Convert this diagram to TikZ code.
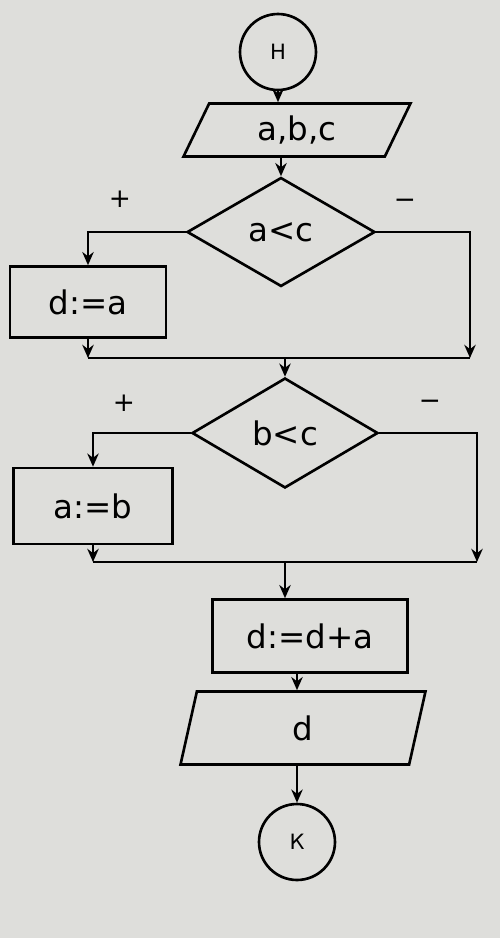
\documentclass[tikz,border=0pt]{standalone}
\usepackage{fontspec}
\setmainfont{DejaVu Sans}
\usetikzlibrary{shapes.geometric,arrows.meta}

\definecolor{paper}{RGB}{222,222,219}

\begin{document}
\begin{tikzpicture}
[
	x=0.02cm, y=-0.02cm,
	line width=1.5pt,
	every node/.style={font=\fontsize{18.5}{21}\selectfont},
	term/.style={circle,draw,minimum size=1.52cm,inner sep=0pt,font=\fontsize{12}{14}\selectfont},
	proc/.style={rectangle,draw,inner sep=0pt},
	decide/.style={diamond,draw,inner sep=0pt},
	io/.style={trapezium,draw,trapezium stretches body,inner sep=0pt},
	sign/.style={font=\fontsize{15}{17}\selectfont},
	flow/.style={-{Stealth[length=7.5pt,width=6.5pt]}}
]

	% paper
	\fill[paper] (0,0) rectangle (500,938);

	% blocks
	\node[term] (start) at (278,52) {Н};
	\node[io,minimum width=4.54cm,minimum height=1.06cm,
		trapezium left angle=48,trapezium right angle=132] (input) at (297,130) {a,b,c};
	\node[decide,minimum width=3.76cm,minimum height=2.18cm] (cond1) at (281,232) {a<c};
	\node[proc,minimum width=3.12cm,minimum height=1.42cm] (asgn1) at (88,302) {d:=a};
	\node[decide,minimum width=3.72cm,minimum height=2.2cm] (cond2) at (285,433) {b<c};
	\node[proc,minimum width=3.18cm,minimum height=1.52cm] (asgn2) at (93,506) {a:=b};
	\node[proc,minimum width=3.9cm,minimum height=1.46cm] (calc) at (310,636) {d:=d+a};
	\node[io,minimum width=4.9cm,minimum height=1.46cm,
		trapezium left angle=57,trapezium right angle=123] (output) at (303,728) {d};
	\node[term] (stop) at (297,842) {К};

	% branch signs
	\node[sign] (plus1) at (120,199) {+};
	\node[sign] (minus1) at (405,204) {−};
	\node[sign] (plus2) at (124,403) {+};
	\node[sign] (minus2) at (430,405) {−};

	% merge points
	\coordinate (merge1) at (470,358);
	\coordinate (merge2) at (477,562);

	% flow
	\draw[flow] (start.south) -- (start.south |- input.north);
	\draw[flow] (cond1.north |- input.south) -- (cond1.north);

	\draw[flow] (cond1.west) -| (asgn1.north);
	\draw[flow] (cond1.east) -| (merge1);
	\draw[flow] (asgn1.south) -- (asgn1.south |- merge1);
	\draw (asgn1.south |- merge1) -- (merge1);
	\draw[flow] (cond2.north |- merge1) -- (cond2.north);

	\draw[flow] (cond2.west) -| (asgn2.north);
	\draw[flow] (cond2.east) -| (merge2);
	\draw[flow] (asgn2.south) -- (asgn2.south |- merge2);
	\draw (asgn2.south |- merge2) -- (merge2);
	\draw[flow] (cond2.south |- merge2) -- (cond2.south |- calc.north);

	\draw[flow] (calc.south -| stop) -- (output.north -| stop);
	\draw[flow] (output.south -| stop) -- (stop.north);

\end{tikzpicture}
\end{document}
